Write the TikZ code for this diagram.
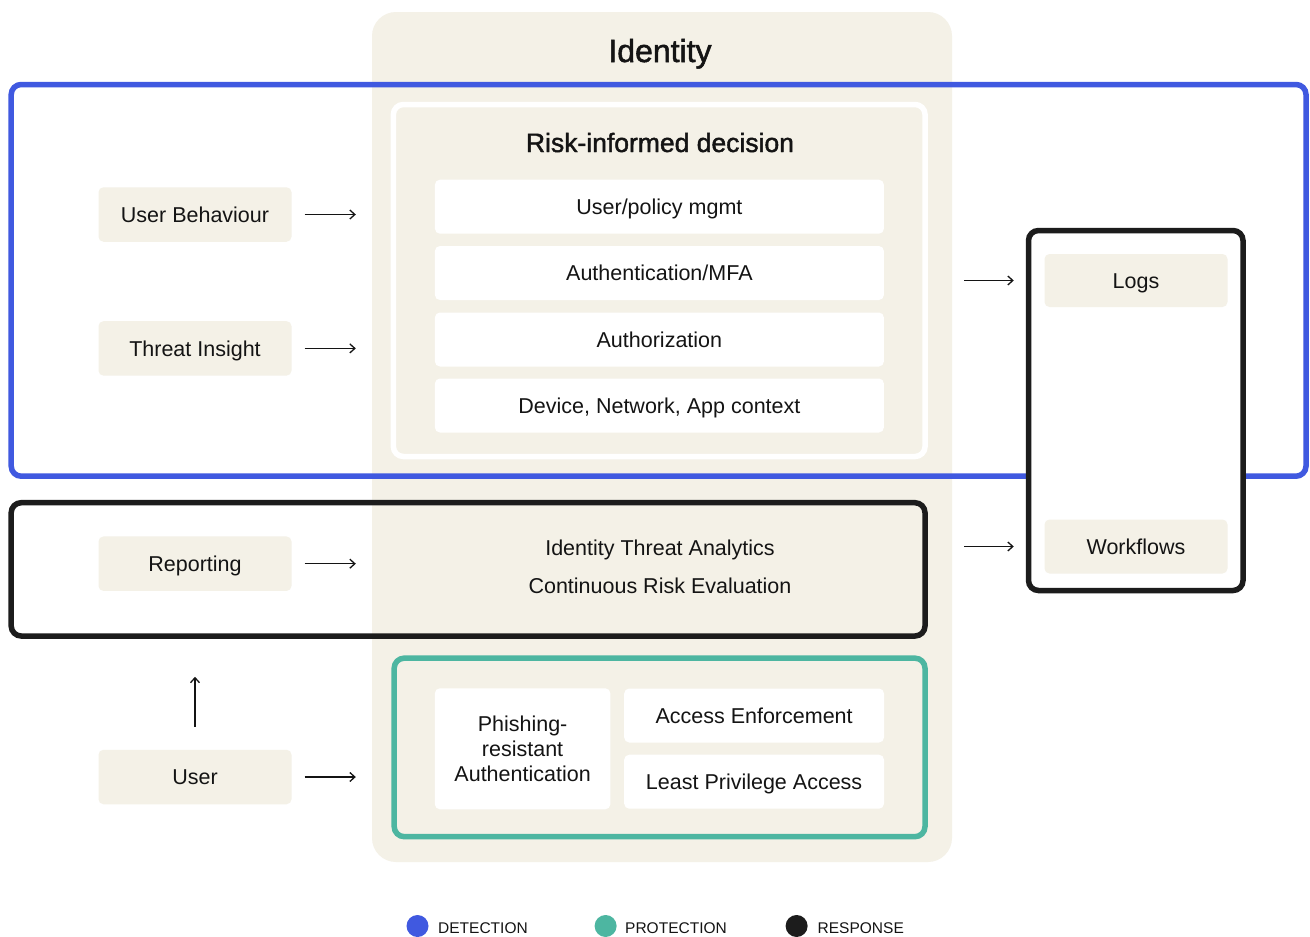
\documentclass[tikz,border=0pt]{standalone}
\usepackage{fontspec}
\setmainfont{Liberation Sans}
\newfontfamily\medfont[FakeBold=1.6]{Liberation Sans}
\usetikzlibrary{arrows.meta}
\definecolor{beige}{HTML}{F4F1E7}
\definecolor{detblue}{HTML}{4059E0}
\definecolor{proteal}{HTML}{4DB6A1}
\definecolor{resblack}{HTML}{1C1C1C}
\definecolor{ink}{HTML}{141414}
\newcommand\labfont{\fontsize{21.5}{25}\selectfont}
\newcommand\legfont{\fontsize{15.5}{19}\selectfont}
\newcommand\titfont{\medfont\fontsize{32}{36}\selectfont}
\newcommand\subfont{\medfont\fontsize{26.5}{30}\selectfont}
\tikzset{
  txt/.style={font=\labfont, text=ink, inner sep=0pt},
  capbox/.style={txt, text height=15.4pt, text depth=0pt},
  lbox/.style={capbox, fill=beige, rounded corners=5pt, minimum width=193pt, minimum height=54.5pt},
  wboxbase/.style={txt, fill=white, rounded corners=5pt},
  wbox/.style={wboxbase, capbox, minimum height=54pt},
  frame/.style={line width=5.5pt, rounded corners=10pt, inner sep=0pt},
  arr/.style={line width=1.3pt, draw=ink, -{Straight Barb[length=5pt,width=9pt]}},
  dot/.style={circle, inner sep=0pt, minimum size=22pt},
  legtext/.style={font=\legfont, text=ink, inner sep=0pt, anchor=base west},
}
\begin{document}
\begin{tikzpicture}[x=1pt,y=-1pt]
\path[use as bounding box, fill=white] (0,0) rectangle (1310,937);

% Identity background
\node[fill=beige, rounded corners=24pt, minimum width=580pt, minimum height=850pt, inner sep=0pt] (idbg) at (662,437) {};
\node[font=\titfont, text=ink, inner sep=0pt, anchor=base] (title) at (660,62) {Identity};

% frames
\node[frame, draw=detblue, minimum width=1294.8pt, minimum height=391.7pt] (detframe) at (658.6,280.35) {};
\node[frame, draw=resblack, minimum width=913.8pt, minimum height=133.3pt] (resframe) at (468.1,569.35) {};
\node[frame, draw=proteal, minimum width=530.8pt, minimum height=178.5pt] (proframe) at (659.6,747.4) {};
\node[frame, draw=white, fill=beige, minimum width=531.7pt, minimum height=352pt] (risk) at (659.2,280.5) {};
\node[frame, draw=resblack, fill=white, minimum width=214.5pt, minimum height=360pt] (outbox) at (1135.75,410.5) {};

% risk-informed decision
\node[font=\subfont, text=ink, inner sep=0pt, anchor=base] (risktitle) at (660,152) {Risk-informed decision};
\node[wbox, minimum width=449pt] (upm) at (659.4,206.7) {User/policy mgmt};
\node[wbox, minimum width=449pt] (mfa) at (659.4,273) {Authentication/MFA};
\node[wbox, minimum width=449pt] (authz) at (659.4,339.5) {Authorization};
\node[wbox, minimum width=449pt] (ctx) at (659.4,405.5) {Device, Network, App context};

% response texts
\node[capbox] (ita) at (660,548) {Identity Threat Analytics};
\node[capbox] (cre) at (660,586) {Continuous Risk Evaluation};

% protection
\node[wboxbase, align=center, minimum width=175.5pt, minimum height=121pt] (phish) at (522.6,748.8) {Phishing-\\resistant\\Authentication};
\node[wbox, minimum width=259.8pt] (acc) at (754.1,715.5) {Access Enforcement};
\node[wbox, minimum width=259.8pt] (lpa) at (754.1,781.7) {Least Privilege Access};

% left boxes
\node[lbox] (ub) at (195,214.5) {User Behaviour};
\node[lbox] (ti) at (195,348.4) {Threat Insight};
\node[lbox] (rep) at (195,563.7) {Reporting};
\node[lbox] (user) at (195,777) {User};

% right boxes
\node[lbox, minimum width=183pt, minimum height=53pt] (logs) at (1136,280.5) {Logs};
\node[lbox, minimum width=183pt, minimum height=54pt] (wf) at (1136,546.5) {Workflows};

% arrows
\draw[arr] ([xshift=13pt]ub.east) -- ([xshift=-16pt]idbg.west |- ub.east);
\draw[arr] ([xshift=13pt]ti.east) -- ([xshift=-16pt]idbg.west |- ti.east);
\draw[arr] ([xshift=13pt]rep.east) -- ([xshift=-16pt]idbg.west |- rep.east);
\draw[arr] ([xshift=13pt]user.east) -- ([xshift=-16pt]idbg.west |- user.east);
\draw[arr] ([yshift=23pt]user.north) -- ([yshift=-38pt]resframe.south -| user.north);
\draw[arr] ([xshift=12pt]idbg.east |- logs.west) -- ([xshift=-12pt]outbox.west |- logs.west);
\draw[arr] ([xshift=12pt]idbg.east |- wf.west) -- ([xshift=-12pt]outbox.west |- wf.west);

% legend
\node[dot, fill=detblue] (ldet) at (417.5,926) {};
\node[legtext] (ldett) at (438,933) {DETECTION};
\node[dot, fill=proteal] (lpro) at (605.6,926) {};
\node[legtext] (lprot) at (625,933) {PROTECTION};
\node[dot, fill=resblack] (lres) at (796.6,926) {};
\node[legtext] (lrest) at (817.5,933) {RESPONSE};
\end{tikzpicture}
\end{document}
